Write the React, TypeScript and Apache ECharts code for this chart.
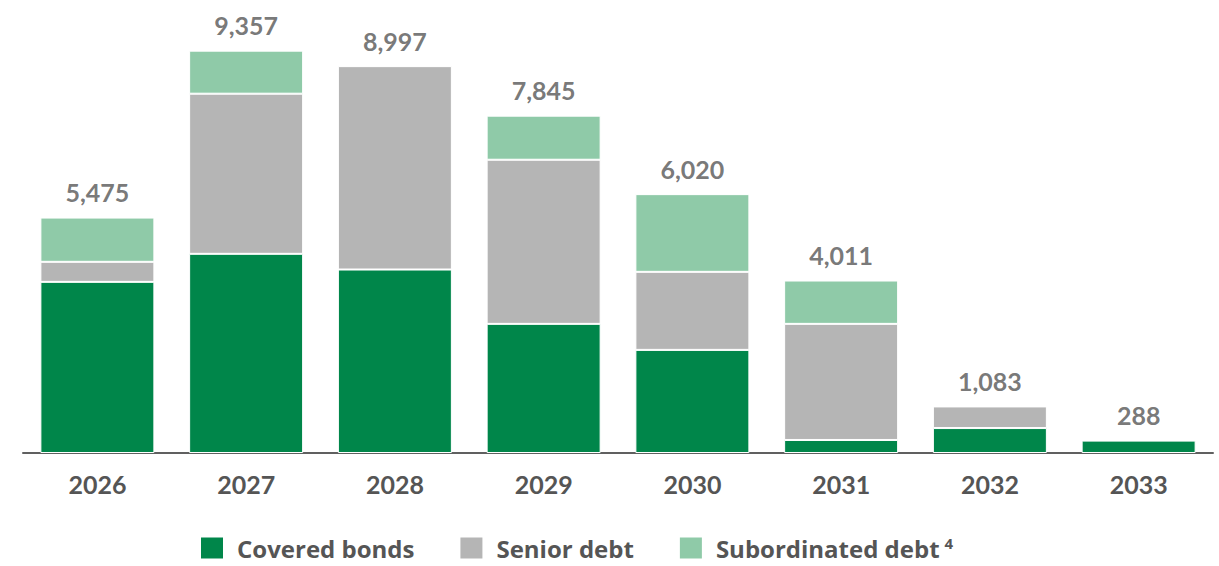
import React, { useEffect, useRef } from "react";
import * as echarts from "echarts";

const years = ["2026", "2027", "2028", "2029", "2030", "2031", "2032", "2033"];
const totals = [5475, 9357, 8997, 7845, 6020, 4011, 1083, 288];
const coveredBonds = [3980, 4632, 4267, 3003, 2398, 303, 580, 288];
const seniorDebt = [466, 3724, 4730, 3817, 1815, 2700, 503, null];
const subordinatedDebt = [1029, 1001, null, 1025, 1807, 1008, null, null];

const FONT = "Lato";
const LEGEND_FONT = "Open Sans";
const TEXT = "#555555";

export default function App() {
  const ref = useRef<HTMLDivElement>(null);
  useEffect(() => {
    if (!ref.current) return;
    const chart = echarts.init(ref.current, undefined, { renderer: "svg" });
    const barCommon = {
      type: "bar" as const,
      stack: "total",
      barWidth: 114,
      itemStyle: { borderColor: "#ffffff", borderWidth: 1 },
    };
    chart.setOption({
      animation: false,
      backgroundColor: "#ffffff",
      textStyle: { fontFamily: FONT },
      grid: { left: 23, right: 6, top: 23, bottom: 113, containLabel: false },
      xAxis: {
        type: "category",
        data: years,
        axisTick: { show: false },
        axisLine: { lineStyle: { color: "#606060", width: 2 } },
        axisLabel: {
          color: TEXT,
          fontFamily: FONT,
          fontWeight: "bold",
          fontSize: 25,
          margin: 18,
        },
      },
      yAxis: {
        type: "value",
        min: 0,
        max: 10000,
        show: false,
        splitLine: { show: false },
      },
      legend: {
        left: 194,
        top: 530,
        icon: "rect",
        itemWidth: 24,
        itemHeight: 23,
        itemGap: 44,
        data: ["Covered bonds", "Senior debt", "Subordinated debt"],
        formatter: (name: string) =>
          name === "Subordinated debt" ? "{n|" + name + "}{s|4}" : "{n|" + name + "}",
        textStyle: {
          color: TEXT,
          fontFamily: LEGEND_FONT,
          fontWeight: "bold",
          fontSize: 24,
          padding: [0, 0, 0, 8],
          rich: {
            n: {
              color: TEXT,
              fontFamily: LEGEND_FONT,
              fontWeight: "bold",
              fontSize: 24,
              lineHeight: 26,
            },
            s: {
              color: TEXT,
              fontFamily: LEGEND_FONT,
              fontWeight: "bold",
              fontSize: 15,
              lineHeight: 15,
              verticalAlign: "top",
              padding: [0, 0, 0, 5],
            },
          },
        },
      },
      series: [
        {
          ...barCommon,
          name: "Covered bonds",
          data: coveredBonds,
          itemStyle: { ...barCommon.itemStyle, color: "#00864A" },
        },
        {
          ...barCommon,
          name: "Senior debt",
          data: seniorDebt,
          itemStyle: { ...barCommon.itemStyle, color: "#B5B5B5" },
        },
        {
          ...barCommon,
          name: "Subordinated debt",
          data: subordinatedDebt,
          itemStyle: { ...barCommon.itemStyle, color: "#8FCAA8" },
        },
        {
          type: "scatter",
          name: "Total",
          data: totals,
          symbolSize: 0,
          silent: true,
          label: {
            show: true,
            position: "top",
            distance: 13,
            color: TEXT,
            fontFamily: FONT,
            fontWeight: "bold",
            fontSize: 25,
            formatter: (p: any) => Number(p.value).toLocaleString("en-US"),
          },
        },
      ],
    });
    return () => chart.dispose();
  }, []);
  return (
    <div
      ref={ref}
      style={{ position: "fixed", left: 0, top: 0, width: 1219, height: 566 }}
    />
  );
}
